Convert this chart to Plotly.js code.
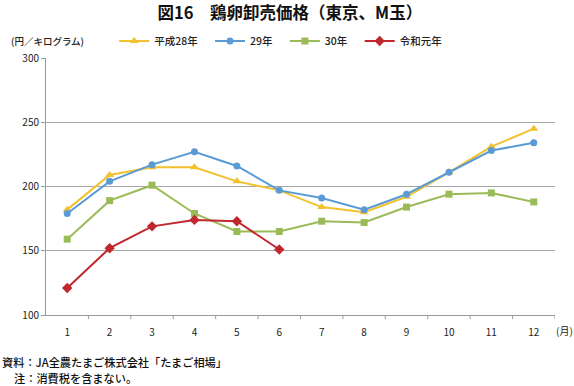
<!DOCTYPE html>
<html><head><meta charset="utf-8">
<script src="https://cdn.plot.ly/plotly-3.0.1.min.js"></script>
<style>body{margin:0;background:#fff}#c{width:574px;height:386px}</style>
</head><body><div id="c"></div>
<script>
const months = ['1','2','3','4','5','6','7','8','9','10','11','12'];
const h28 = [182, 209, 215, 215, 204, 197, 184, 180, 192, 211, 231, 245];
const h29 = [179, 204, 217, 227, 216, 197, 191, 182, 194, 211, 228, 234];
const h30 = [159, 189, 201, 179, 165, 165, 173, 172, 184, 194, 195, 188];
const r1  = [121, 152, 169, 174, 173, 151];
const names = ['平成28年', '29年', '30年', '令和元年'];
const yTicks = [100, 150, 200, 250, 300];

const font = "'Noto Sans CJK JP', 'Noto Sans', sans-serif";
const pad = '\u2002\u2009';
function tr(y, name, color, symbol, size) {
  return {x: months.slice(0, y.length), y: y, name: name + pad, type: 'scatter', mode: 'lines+markers',
    line: {color: color, width: 2}, marker: {color: color, symbol: symbol, size: size}};
}
const data = [
  tr(h28, names[0], '#F2C12E', 'triangle-up', 8),
  tr(h29, names[1], '#5B9BD5', 'circle', 7),
  tr(h30, names[2], '#9BBB59', 'square', 7),
  tr(r1, names[3], '#C0282D', 'diamond', 8)
];
const layout = {
  width: 574, height: 386,
  margin: {l: 46, r: 19, t: 58, b: 71},
  paper_bgcolor: '#fff', plot_bgcolor: '#fff',
  font: {family: font, size: 10, color: '#222'},
  title: {text: '図16　鶏卵卸売価格（東京、M玉）', font: {family: font, size: 16.5, color: '#111', weight: 'bold'}, x: 0.505, xanchor: 'center', y: 0.965, yanchor: 'middle'},
  showlegend: true,
  legend: {orientation: 'h', x: 0.134, xanchor: 'left', y: 1.066, yanchor: 'middle', font: {family: font, size: 10.5, color: '#222', weight: 500}, itemwidth: 30, traceorder: 'normal', bgcolor: 'rgba(0,0,0,0)'},
  xaxis: {type: 'category', range: [-0.5, 11.5], showgrid: false, showline: true, linecolor: '#9a9a9a', linewidth: 1,
    ticks: 'outside', ticklen: 8, tickcolor: 'rgba(0,0,0,0)', tickfont: {size: 10, family: font}, fixedrange: true, zeroline: false},
  yaxis: {range: [100, 300], tickvals: yTicks, showgrid: true, gridcolor: '#a6a6a6', gridwidth: 1, showline: true, linecolor: '#9a9a9a',
    ticks: 'outside', ticklen: 4, tickcolor: '#9a9a9a', tickfont: {size: 10, family: font}, zeroline: false},
  shapes: months.map((m, i) => ({type: 'line', xref: 'x', yref: 'paper', x0: i + 0.5, x1: i + 0.5, y0: 0, y1: -0.016, line: {color: '#9a9a9a', width: 1}})),
  annotations: [
    {text: '(円／キログラム)', xref: 'paper', yref: 'paper', x: -0.072, y: 1.066, xanchor: 'left', yanchor: 'middle', showarrow: false, font: {size: 9.5, family: font, color: '#222', weight: 500}},
    {text: '(月)', xref: 'paper', yref: 'paper', x: 0.998, y: -0.062, xanchor: 'left', yanchor: 'middle', showarrow: false, font: {size: 10, family: font, color: '#222'}},
    {text: '資料：JA全農たまご株式会社「たまご相場」', xref: 'paper', yref: 'paper', x: -0.0904, y: -0.1848, xanchor: 'left', yanchor: 'middle', showarrow: false, font: {size: 11.2, family: font, color: '#111', weight: 500}},
    {text: '注：消費税を含まない。', xref: 'paper', yref: 'paper', x: -0.067, y: -0.2432, xanchor: 'left', yanchor: 'middle', showarrow: false, font: {size: 11.2, family: font, color: '#111', weight: 500}}
  ]
};
Plotly.newPlot('c', data, layout, {displayModeBar: false, staticPlot: true});
</script></body></html>
